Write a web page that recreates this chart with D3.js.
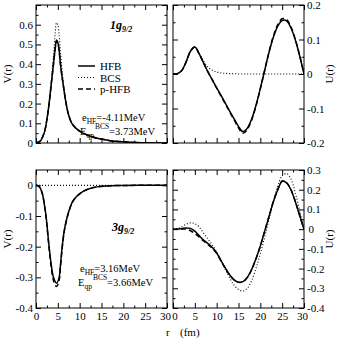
<!DOCTYPE html>
<html>
<head>
<meta charset="utf-8">
<script src="https://cdn.jsdelivr.net/npm/d3@7"></script>
<style>
  body { margin: 0; background: #fff; }
  text { font-family: "Liberation Serif", "Times New Roman", serif; fill: #000; }
</style>
</head>
<body>
<script>
// data
let rV1 = [0,1,1.5,2,2.5,3,3.5,4,4.4,4.7,5,5.3,5.6,6.2,6.9,7.5,8.2,9,10,10.8,12,13,14,15,17,20,23,26,30];
let hfbV1 = [0,0.01,0.03,0.06,0.12,0.2,0.3,0.4,0.48,0.523,0.51,0.47,0.4,0.3,0.2,0.14,0.1,0.078,0.06,0.05,0.038,0.03,0.024,0.02,0.012,0.006,0.002,0.0005,0];
let bcsV1 = [0,0.01,0.03,0.06,0.12,0.2,0.31,0.44,0.56,0.61,0.6,0.55,0.46,0.32,0.2,0.14,0.1,0.078,0.06,0.05,0.038,0.03,0.024,0.02,0.012,0.006,0.002,0.0005,0];
let phfbV1 = [0,0.01,0.03,0.06,0.12,0.2,0.3,0.4,0.478,0.518,0.506,0.467,0.4,0.3,0.2,0.14,0.1,0.078,0.06,0.05,0.038,0.03,0.024,0.02,0.012,0.006,0.002,0.0005,0];

let rU = [0,1,2,3,4,5,6,7,8,9,10,11,12,13,14,15,16,17,18,19,20,21,22,23,24,25,26,27,28,29,30];
let hfbU1 = [0,0.001,0.01,0.035,0.066,0.078,0.058,0.032,0.006,-0.017,-0.04,-0.062,-0.085,-0.108,-0.13,-0.152,-0.167,-0.157,-0.131,-0.091,-0.042,0.011,0.063,0.107,0.139,0.155,0.154,0.134,0.099,0.053,0];
let bcsU1 = [0,0.001,0.01,0.035,0.066,0.078,0.06,0.038,0.02,0.011,0.006,0.003,0.002,0.001,0.001,0,0,0,0,0,0,0,0,0,0,0,0,0,0,0,0];
let phfbU1 = [0,0.001,0.01,0.035,0.066,0.078,0.058,0.032,0.006,-0.017,-0.041,-0.064,-0.087,-0.11,-0.133,-0.156,-0.172,-0.161,-0.134,-0.093,-0.043,0.011,0.065,0.11,0.143,0.16,0.158,0.137,0.101,0.054,0];

let rV3 = [0,0.5,1,1.5,2,2.3,3,3.5,4,4.7,5.3,5.6,6,6.5,7.2,8,8.5,9.5,10.8,12,14,16,20,25,30];
let hfbV3 = [0,-0.002,-0.01,-0.03,-0.07,-0.1,-0.2,-0.26,-0.3,-0.319,-0.3,-0.26,-0.2,-0.145,-0.1,-0.065,-0.05,-0.033,-0.02,-0.012,-0.005,-0.002,-0.0005,0,0];
let bcsV3 = [0,0,0,0,0,0,0,0,0,0,0,0,0,0,0,0,0,0,0,0,0,0,0,0,0];
let phfbV3 = [0,-0.002,-0.01,-0.03,-0.072,-0.103,-0.205,-0.267,-0.31,-0.33,-0.31,-0.268,-0.205,-0.148,-0.102,-0.066,-0.051,-0.034,-0.02,-0.012,-0.005,-0.002,-0.0005,0,0];

let hfbU3 = [0,0,0.003,0.006,0.004,-0.01,-0.033,-0.055,-0.073,-0.093,-0.12,-0.16,-0.198,-0.232,-0.257,-0.269,-0.266,-0.245,-0.205,-0.15,-0.085,-0.01,0.065,0.14,0.2,0.243,0.235,0.2,0.14,0.07,0];
let bcsU3 = [0,0.002,0.012,0.025,0.032,0.028,0.01,-0.02,-0.05,-0.08,-0.115,-0.16,-0.205,-0.248,-0.285,-0.306,-0.314,-0.3,-0.262,-0.2,-0.125,-0.04,0.05,0.14,0.22,0.27,0.282,0.255,0.185,0.095,0];
let phfbU3 = [0,0,0.001,0,-0.008,-0.022,-0.04,-0.06,-0.078,-0.098,-0.123,-0.162,-0.2,-0.234,-0.258,-0.27,-0.267,-0.246,-0.206,-0.151,-0.086,-0.01,0.066,0.141,0.201,0.244,0.236,0.201,0.141,0.07,0];

let xTicks = [0,5,10,15,20,25,30];
let xMinor = [2.5,7.5,12.5,17.5,22.5,27.5];

let svg = d3.select("body").append("svg")
    .attr("width", 340)
    .attr("height", 345);

let fmt = function(d){
    return d === 0 ? "0" : String(+d.toFixed(1));
};

function panel(o){
    let x = d3.scaleLinear().domain([0,30]).range([o.x0, o.x1]);
    let y = d3.scaleLinear().domain(o.dom).range([o.y1, o.y0]);
    let g = svg.append("g");
    let id = "c" + Math.round(o.x0) + Math.round(o.y0);

    g.append("clipPath").attr("id", id)
        .append("rect")
        .attr("x", o.x0).attr("y", o.y0)
        .attr("width", o.x1 - o.x0).attr("height", o.y1 - o.y0);

    let yMaj = d3.range(Math.ceil(o.dom[0]*10 - 1e-6), Math.floor(o.dom[1]*10 + 1e-6) + 1).map(function(d){ return d/10; });
    let yMin = yMaj.map(function(d){ return d + 0.05; }).filter(function(d){ return d < o.dom[1] - 1e-9; });

    let yfmt = function(d){
        if (o.side === "left" && d >= o.dom[1] - 1e-9) return "";
        return fmt(d);
    };

    // ticks, all pointing inward
    let axes = [
        [d3.axisBottom(x), o.y1, o.xlab],
        [d3.axisTop(x), o.y0, false]
    ];
    axes.forEach(function(a){
        let ax = g.append("g").attr("transform", "translate(0," + a[1] + ")");
        ax.call(a[0].tickValues(xTicks).tickSize(-5).tickPadding(4)
            .tickFormat(a[2] ? fmt : ""));
        ax.append("g").call(a[0].tickValues(xMinor).tickSize(-2.5).tickFormat(""));
    });
    let yaxes = [
        [d3.axisLeft(y), o.x0, o.side === "left"],
        [d3.axisRight(y), o.x1, o.side === "right"]
    ];
    yaxes.forEach(function(a){
        let ax = g.append("g").attr("transform", "translate(" + a[1] + ",0)");
        ax.call(a[0].tickValues(yMaj).tickSize(-5).tickPadding(3)
            .tickFormat(a[2] ? yfmt : ""));
        ax.append("g").call(a[0].tickValues(yMin).tickSize(-2.5).tickFormat(""));
    });
    g.selectAll(".domain").remove();
    g.selectAll(".tick line").attr("stroke", "#000");
    g.selectAll(".tick text")
        .style("font-family", "'Liberation Serif', serif")
        .style("font-size", "11px")
        .attr("fill", "#000");
    if (o.xlab) {
        // keep "30" and the next panel's "0" from touching
        g.selectAll(".tick text").filter(function(d){ return d === 30 && this.textContent === "30"; })
            .attr("dx", -2);
        g.selectAll(".tick text").filter(function(d){ return d === 0 && this.textContent === "0" && o.side === "right"; })
            .attr("dx", 1.5);
    }

    let line = d3.line()
        .x(function(d){ return x(d[0]); })
        .y(function(d){ return y(d[1]); })
        .curve(d3.curveCatmullRom);

    let styles = {
        hfb: {w: 1.5, dash: null},
        bcs: {w: 1.1, dash: "1,2"},
        phfb: {w: 1.5, dash: "5,3"}
    };
    o.series.forEach(function(s){
        let pts = s.r.map(function(r, i){ return [r, s.v[i]]; });
        g.append("path")
            .attr("d", line(pts))
            .attr("clip-path", "url(#" + id + ")")
            .attr("fill", "none")
            .attr("stroke", "#000")
            .attr("stroke-width", styles[s.k].w)
            .attr("stroke-dasharray", styles[s.k].dash);
    });

    g.append("rect")
        .attr("x", o.x0).attr("y", o.y0)
        .attr("width", o.x1 - o.x0).attr("height", o.y1 - o.y0)
        .attr("fill", "none").attr("stroke", "#000").attr("stroke-width", 1);

    let cy = (o.y0 + o.y1) / 2;
    let lx = o.side === "left" ? 11 : 333;
    g.append("text")
        .attr("transform", "translate(" + lx + "," + cy + ") rotate(-90)")
        .attr("text-anchor", "middle")
        .style("font-size", "11px")
        .text(o.ylab);
}

panel({x0: 36, x1: 167, y0: 5, y1: 143, dom: [0, 0.7], side: "left", xlab: false, ylab: "V(r)",
    series: [{k: "bcs", r: rV1, v: bcsV1}, {k: "hfb", r: rV1, v: hfbV1}, {k: "phfb", r: rV1, v: phfbV1}]});
panel({x0: 173, x1: 304, y0: 5, y1: 143, dom: [-0.2, 0.2], side: "right", xlab: false, ylab: "U(r)",
    series: [{k: "bcs", r: rU, v: bcsU1}, {k: "hfb", r: rU, v: hfbU1}, {k: "phfb", r: rU, v: phfbU1}]});
panel({x0: 36, x1: 167, y0: 170, y1: 308, dom: [-0.4, 0.05], side: "left", xlab: true, ylab: "V(r)",
    series: [{k: "bcs", r: rV3, v: bcsV3}, {k: "hfb", r: rV3, v: hfbV3}, {k: "phfb", r: rV3, v: phfbV3}]});
panel({x0: 173, x1: 304, y0: 170, y1: 308, dom: [-0.4, 0.3], side: "right", xlab: true, ylab: "U(r)",
    series: [{k: "bcs", r: rU, v: bcsU3}, {k: "hfb", r: rU, v: hfbU3}, {k: "phfb", r: rU, v: phfbU3}]});

// legend
let legend = [["HFB", null, 1.5], ["BCS", "1,2", 1.1], ["p-HFB", "5,3", 1.5]];
legend.forEach(function(d, i){
    let yy = 66 + i * 11.5;
    svg.append("line")
        .attr("x1", 78).attr("x2", 95).attr("y1", yy).attr("y2", yy)
        .attr("stroke", "#000").attr("stroke-width", d[2])
        .attr("stroke-dasharray", d[1]);
    svg.append("text").attr("x", 100).attr("y", yy + 4)
        .style("font-size", "11px").text(d[0]);
});

// state labels
function stateLabel(xx, yy, n){
    let t = svg.append("text").attr("x", xx).attr("y", yy)
        .style("font-size", "12px").style("font-weight", "bold").style("font-style", "italic");
    t.append("tspan").text(n + "g");
    t.append("tspan").attr("dy", 3).style("font-size", "8px").text("9/2");
}
stateLabel(110, 29, "1");
stateLabel(112, 231, "3");

function energies(xx, yy, e1, e2){
    let t = svg.append("text").attr("x", xx + 2).attr("y", yy).style("font-size", "10.5px");
    t.append("tspan").text("e");
    t.append("tspan").attr("dy", 3).style("font-size", "7.5px").text("HF");
    t.append("tspan").attr("dy", -3).text("=" + e1 + "MeV");
    let t2 = svg.append("text").attr("x", xx).attr("y", yy + 14).style("font-size", "10.5px");
    t2.append("tspan").text("E");
    t2.append("tspan").attr("dy", 3).style("font-size", "7.5px").text("qp");
    t2.append("tspan").attr("dy", -9).attr("dx", 1).style("font-size", "7.5px").text("BCS");
    t2.append("tspan").attr("dy", 6).text("=" + e2 + "MeV");
}
energies(80, 121, "-4.11", "3.73");
energies(78, 272, "3.16", "3.66");

svg.append("text").attr("x", 166).attr("y", 336).style("font-size", "11px").text("r");
svg.append("text").attr("x", 180).attr("y", 336).style("font-size", "11px").text("(fm)");
</script>
</body>
</html>
